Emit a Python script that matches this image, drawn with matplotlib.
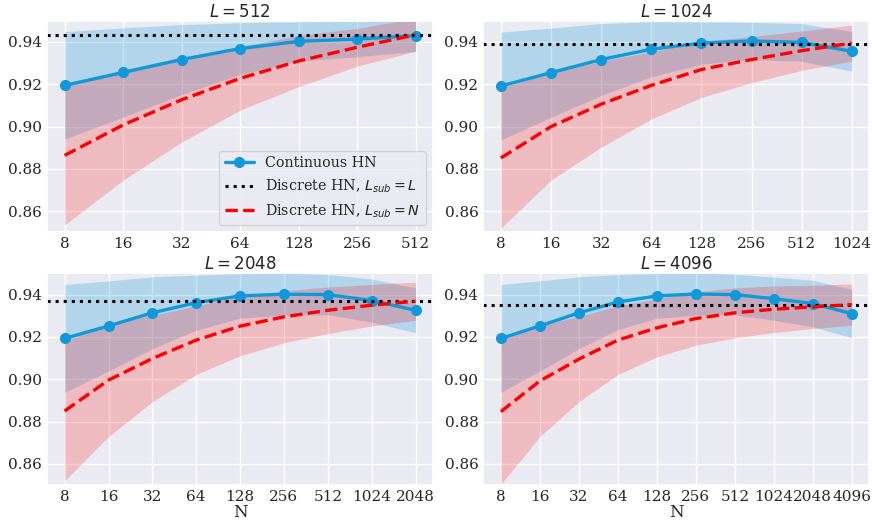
import numpy as np
import matplotlib
matplotlib.use("Agg")
import matplotlib.pyplot as plt
import seaborn as sns

# --- Data ---
L_values = [512, 1024, 2048, 4096]

# continuous HN: mean and std per N (N = 8 ... L)
cont_mean = {
    512: [0.9195, 0.9256, 0.9317, 0.9369, 0.9403, 0.9414, 0.9430],
    1024: [0.9192, 0.9255, 0.9317, 0.9366, 0.9395, 0.9405, 0.9398, 0.9356],
    2048: [0.9193, 0.9252, 0.9314, 0.9362, 0.9394, 0.9402, 0.9400, 0.9372, 0.9326],
    4096: [0.9193, 0.9252, 0.9314, 0.9365, 0.9394, 0.9403, 0.9400, 0.9381, 0.9358, 0.9310],
}
cont_std = {
    512: [0.0254, 0.0211, 0.0165, 0.0122, 0.0093, 0.0084, 0.0074],
    1024: [0.0255, 0.0211, 0.0170, 0.0130, 0.0100, 0.0088, 0.0089, 0.0094],
    2048: [0.0255, 0.0213, 0.0170, 0.0130, 0.0105, 0.0100, 0.0095, 0.0102, 0.0106],
    4096: [0.0255, 0.0213, 0.0170, 0.0130, 0.0106, 0.0100, 0.0096, 0.0102, 0.0110, 0.0114],
}

# discrete HN with L_sub = N: mean and std
disc_mean = {
    512: [0.8864, 0.9008, 0.9127, 0.9228, 0.9310, 0.9375, 0.9434],
    1024: [0.8852, 0.9000, 0.9106, 0.9195, 0.9270, 0.9317, 0.9359, 0.9395],
    2048: [0.8850, 0.8996, 0.9098, 0.9185, 0.9251, 0.9295, 0.9326, 0.9350, 0.9369],
    4096: [0.8847, 0.8992, 0.9095, 0.9185, 0.9243, 0.9287, 0.9314, 0.9331, 0.9342, 0.9353],
}
disc_std = {
    512: [0.0328, 0.0261, 0.0200, 0.0150, 0.0121, 0.0089, 0.0078],
    1024: [0.0332, 0.0253, 0.0203, 0.0159, 0.0132, 0.0109, 0.0093, 0.0085],
    2048: [0.0330, 0.0267, 0.0204, 0.0162, 0.0140, 0.0123, 0.0110, 0.0098, 0.0090],
    4096: [0.0343, 0.0263, 0.0201, 0.0162, 0.0137, 0.0126, 0.0118, 0.0110, 0.0102, 0.0098],
}

# discrete HN with L_sub = L (horizontal reference)
disc_full = {512: 0.9431, 1024: 0.9392, 2048: 0.9369, 4096: 0.9353}

blue = "#1099da"
red = "#ff0000"

# --- Style ---
sns.set_theme(style="darkgrid")
plt.rcParams["font.family"] = ["DejaVu Serif"]
plt.rcParams["mathtext.fontset"] = "dejavusans"

fig, axes = plt.subplots(2, 2, figsize=(8.72, 5.21), dpi=100)
fig.subplots_adjust(left=0.054, right=0.997, top=0.96, bottom=0.069,
                    wspace=0.13, hspace=0.194)

for ax, L in zip(axes.flat, L_values):
    n_vals = 2 ** np.arange(3, int(np.log2(L)) + 1)
    cm = np.array(cont_mean[L])
    cs = np.array(cont_std[L])
    dm = np.array(disc_mean[L])
    ds = np.array(disc_std[L])

    ax.plot(n_vals, cm, color=blue, marker="o", markersize=7, linewidth=2.4,
            label="Continuous HN")
    ax.fill_between(n_vals, cm - cs, cm + cs, color=blue, alpha=0.25, linewidth=0)
    ax.axhline(disc_full[L], color="black", linestyle=":", linewidth=2.2,
               label=r"Discrete HN, $L_{sub} = L$")
    ax.plot(n_vals, dm, color=red, linestyle="--", linewidth=2.4,
            label=r"Discrete HN, $L_{sub} = N$")
    ax.fill_between(n_vals, dm - ds, dm + ds, color=red, alpha=0.2, linewidth=0)

    ax.set_xscale("log", base=2)
    ax.set_xticks(n_vals)
    ax.set_xticklabels([str(n) for n in n_vals])
    ax.minorticks_off()
    ax.set_ylim(0.85, 0.95)
    ax.set_yticks([0.86, 0.88, 0.90, 0.92, 0.94])
    ax.tick_params(labelsize=11, length=0, pad=3.5)
    ax.set_title(rf"$L = {L}$", fontsize=12, pad=3)

axes[1, 0].set_xlabel("N", fontsize=12, labelpad=0)
axes[1, 1].set_xlabel("N", fontsize=12, labelpad=0)
axes[0, 0].legend(loc="lower right", fontsize=10.3)

fig.savefig("out.png", dpi=100)
